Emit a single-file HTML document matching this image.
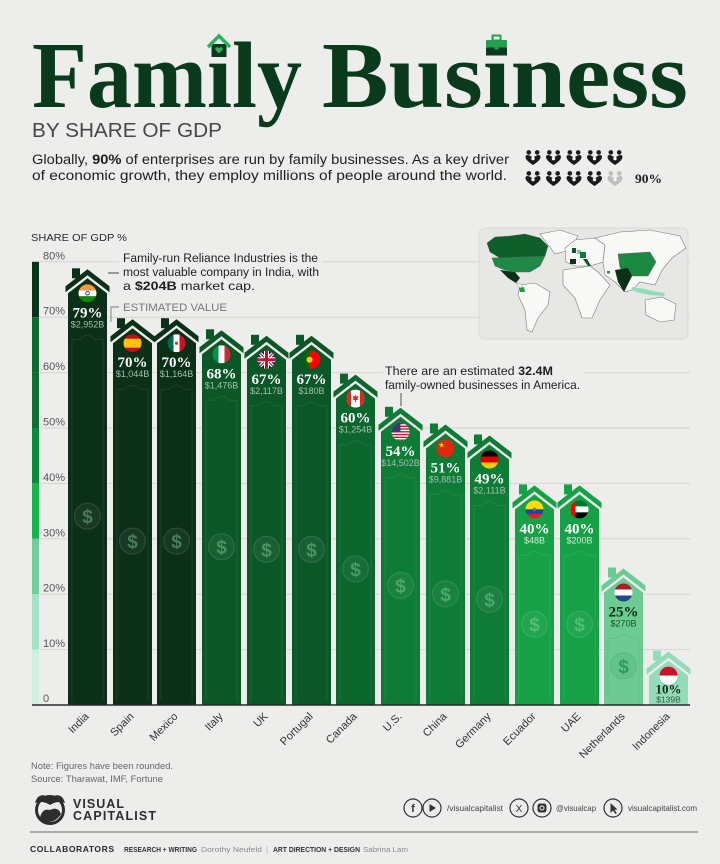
<!DOCTYPE html>
<html><head><meta charset="utf-8">
<style>
html,body{margin:0;padding:0;background:#ededeb;}
svg{display:block;}
</style></head>
<body>
<svg width="720" height="864" viewBox="0 0 720 864" xmlns="http://www.w3.org/2000/svg" font-family="'Liberation Sans', sans-serif">
<defs>
<style>
.pct{font-family:'Liberation Serif',serif;font-weight:bold;font-size:15px;fill:#fff;text-anchor:middle}
.val{font-size:9px;fill:#a9bfb0;text-anchor:middle}
.dc{fill:rgba(255,255,255,0.05);stroke:rgba(255,255,255,0.12);stroke-width:1.2}
.ds{font-size:19px;font-weight:bold;fill:rgba(160,230,180,0.38);text-anchor:middle}
.deco{fill:none;stroke:rgba(255,255,255,0.08);stroke-width:1}
.yl{font-size:11px;fill:#555}
.xl{font-size:11px;fill:#333;text-anchor:end}
.land{fill:#f8f8f6;stroke:#7a7a7a;stroke-width:0.6}
</style>
<clipPath id="fc"><circle cx="0" cy="0" r="9"/></clipPath>
<clipPath id="mapclip"><rect x="479" y="228" width="209" height="111" rx="6"/></clipPath>
<symbol id="ppl" viewBox="0 0 16 15">
<circle cx="3.8" cy="2.4" r="2.3"/>
<circle cx="12.2" cy="2.4" r="2.3"/>
<path d="M0.5,7 C0.5,5 2,4.6 4,5.2 L8,7.5 L12,5.2 C14,4.6 15.5,5 15.5,7 C15.5,10 11,13 8,15 C5,13 0.5,10 0.5,7Z"/>
<circle cx="8" cy="8.6" r="1.7" fill="#fff"/>
</symbol>
</defs>

<rect width="720" height="864" fill="#ededeb"/>

<!-- TITLE -->
<text x="32" y="107" font-family="'Liberation Serif', serif" font-weight="bold" font-size="94" fill="#0a3a1c" textLength="270" lengthAdjust="spacingAndGlyphs">Famıly</text>
<text x="322" y="107" font-family="'Liberation Serif', serif" font-weight="bold" font-size="94" fill="#0a3a1c" textLength="366" lengthAdjust="spacingAndGlyphs">Busıness</text>
<!-- house icon -->
<rect x="211.5" y="44" width="15" height="13" fill="#0a3a1c"/>
<polyline points="208,47 219,36 230,47" fill="none" stroke="#2bb35a" stroke-width="3.5"/>
<path d="M219,53.5 L215.8,50.3 C214.6,49 215.6,47 217.3,47.3 C218.2,47.4 219,48.2 219,48.2 C219,48.2 219.8,47.4 220.7,47.3 C222.4,47 223.4,49 222.2,50.3Z" fill="#2bb35a"/>
<!-- briefcase icon -->
<rect x="492.5" y="35.5" width="8" height="5" fill="none" stroke="#22a04c" stroke-width="2"/>
<rect x="486" y="40" width="21" height="7.5" rx="1" fill="#22a04c"/>
<rect x="486" y="47.5" width="21" height="8" fill="#0a3a1c"/>
<rect x="494.5" y="45.5" width="4" height="4" fill="#22a04c"/>

<text x="32" y="137" font-size="20.5" fill="#474747" textLength="190" lengthAdjust="spacingAndGlyphs">BY SHARE OF GDP</text>

<text x="32" y="164" font-size="13.5" fill="#1e1e1e" textLength="477" lengthAdjust="spacingAndGlyphs">Globally, <tspan font-weight="bold">90%</tspan> of enterprises are run by family businesses. As a key driver</text>
<text x="32" y="180" font-size="13.5" fill="#1e1e1e" textLength="475" lengthAdjust="spacingAndGlyphs">of economic growth, they employ millions of people around the world.</text>

<!-- people icons -->
<g fill="#1b1b1b">
<use href="#ppl" x="525" y="150" width="16" height="15"/>
<use href="#ppl" x="545.5" y="150" width="16" height="15"/>
<use href="#ppl" x="566" y="150" width="16" height="15"/>
<use href="#ppl" x="586.5" y="150" width="16" height="15"/>
<use href="#ppl" x="607" y="150" width="16" height="15"/>
<use href="#ppl" x="525" y="171" width="16" height="15"/>
<use href="#ppl" x="545.5" y="171" width="16" height="15"/>
<use href="#ppl" x="566" y="171" width="16" height="15"/>
<use href="#ppl" x="586.5" y="171" width="16" height="15"/>
</g>
<use href="#ppl" x="607" y="171" width="16" height="15" fill="#bdbdbb"/>
<text x="635" y="183" font-family="'Liberation Serif', serif" font-weight="bold" font-size="12.5" fill="#222" textLength="27" lengthAdjust="spacingAndGlyphs">90%</text>

<!-- CHART HEADER -->
<text x="31" y="241" font-size="10.5" fill="#2a2a2a" textLength="96" lengthAdjust="spacingAndGlyphs">SHARE OF GDP %</text>

<!-- gridlines -->
<g stroke="#d4d4d2" stroke-width="1">
<line x1="40" y1="261.8" x2="690" y2="261.8"/>
<line x1="40" y1="317.2" x2="690" y2="317.2"/>
<line x1="40" y1="372.6" x2="690" y2="372.6"/>
<line x1="40" y1="428" x2="690" y2="428"/>
<line x1="40" y1="483.4" x2="690" y2="483.4"/>
<line x1="40" y1="538.8" x2="690" y2="538.8"/>
<line x1="40" y1="594.2" x2="690" y2="594.2"/>
<line x1="40" y1="649.6" x2="690" y2="649.6"/>
</g>

<!-- y labels -->
<text class="yl" x="43" y="259.3">80%</text>
<text class="yl" x="43" y="314.7">70%</text>
<text class="yl" x="43" y="370.1">60%</text>
<text class="yl" x="43" y="425.5">50%</text>
<text class="yl" x="43" y="480.9">40%</text>
<text class="yl" x="43" y="536.3">30%</text>
<text class="yl" x="43" y="591.7">20%</text>
<text class="yl" x="43" y="647.1">10%</text>
<text class="yl" x="43" y="702">0</text>

<!-- left color scale -->
<rect x="32" y="261.8" width="7" height="55.4" fill="#07331a"/>
<rect x="32" y="317.2" width="7" height="55.4" fill="#0e6a30"/>
<rect x="32" y="372.6" width="7" height="55.4" fill="#0f6e32"/>
<rect x="32" y="428" width="7" height="55.4" fill="#0b8a3b"/>
<rect x="32" y="483.4" width="7" height="55.4" fill="#1ab24d"/>
<rect x="32" y="538.8" width="7" height="55.4" fill="#72cd98"/>
<rect x="32" y="594.2" width="7" height="55.4" fill="#a6e2c6"/>
<rect x="32" y="649.6" width="7" height="55.4" fill="#cdf0e0"/>

<!-- MAP -->
<rect x="479" y="228" width="209" height="111" rx="6" fill="#e7e7e5" stroke="#dadad8"/>
<g clip-path="url(#mapclip)">
<polygon class="land" points="540,234 560,230 578,236 570,250 555,254"/>
<polygon class="land" points="520,285 535,283 550,292 548,305 538,318 532,332 527,330 525,310 518,295"/>
<polygon class="land" points="563,270 590,266 598,272 610,285 600,300 592,318 582,318 575,298 563,285"/>
<polygon class="land" points="565,248 575,240 595,238 605,245 603,262 590,266 575,266 566,262"/>
<polygon class="land" points="595,238 620,232 650,230 680,236 686,248 672,258 662,270 655,285 640,282 632,290 625,292 615,282 605,275 603,262 605,245"/>
<polygon class="land" points="645,300 662,297 676,304 674,320 660,322 646,315"/>
<polygon points="487,243 495,237 510,236 525,234 540,238 548,246 545,256 530,258 500,258 490,252" fill="#0f5f2b" stroke="#555" stroke-width="0.4"/>
<polygon points="492,258 545,256 540,266 530,272 515,272 505,270 495,266" fill="#1f8a45" stroke="#555" stroke-width="0.4"/>
<polygon points="500,270 515,272 520,278 516,283 508,278" fill="#0a3018"/>
<polygon points="516,283 521,284 523,289 519,287" fill="#f8f8f6" stroke="#777" stroke-width="0.4"/>
<polygon points="519,288 524,287 525,292 520,292" fill="#17a147"/>
<polygon points="618,254 650,252 656,262 648,276 630,276 620,268" fill="#1a8a42" stroke="#555" stroke-width="0.4"/>
<polygon points="615,270 628,268 632,276 624,292 618,282" fill="#0a3018"/>
<polygon points="632,287 645,289 652,291 665,293 664,296 650,295 640,293 631,290" fill="#92dcb9"/>
<rect x="570" y="259" width="6" height="5" fill="#0a3018"/>
<rect x="572" y="248" width="4" height="5" fill="#0c5727"/>
<rect x="577" y="250" width="4" height="4" fill="#6ccb93"/>
<rect x="580" y="252" width="6" height="6" fill="#0e7b36"/>
<polygon points="583,259 587,259 591,266 588,266" fill="#0c5727"/>
<rect x="607" y="271" width="3" height="2.5" fill="#17a147"/>
</g>

<!-- annotation backgrounds -->
<rect x="119" y="250" width="203" height="44" fill="#ededeb"/>
<rect x="383" y="362" width="200" height="30" fill="#ededeb"/>

<!-- BARS -->
<!-- India -->
<g transform="translate(68,267.3)">
<rect x="4" y="1" width="8" height="10" fill="#0a3018"/>
<polygon points="-2.5,19 19.5,2 41.5,19 41.5,25 19.5,8 -2.5,25" fill="#0a3018"/>
<polygon points="0,26 19.5,11 39,26 39,437.7 0,437.7" fill="#0a3018"/>
<path class="deco" d="M4,433.7 V72 H12 Q19.5,64 27,72 H35 V433.7"/>
<circle class="dc" cx="19.5" cy="248.9" r="13"/>
<text class="ds" x="19.5" y="255.9">$</text>
<g transform="translate(19.5,26)" clip-path="url(#fc)">
<rect x="-9" y="-9" width="18" height="6" fill="#ff9933"/><rect x="-9" y="-3" width="18" height="6" fill="#fff"/><rect x="-9" y="3" width="18" height="6" fill="#138808"/><circle r="1.8" fill="none" stroke="#000080" stroke-width="0.7"/>
</g>
<text class="pct" x="19.5" y="50">79%</text>
<text class="val" x="19.5" y="60">$2,952B</text>
</g>
<!-- Spain -->
<g transform="translate(113,317.2)">
<rect x="4" y="1" width="8" height="10" fill="#0a3018"/>
<polygon points="-2.5,19 19.5,2 41.5,19 41.5,25 19.5,8 -2.5,25" fill="#0a3018"/>
<polygon points="0,26 19.5,11 39,26 39,387.8 0,387.8" fill="#0a3018"/>
<path class="deco" d="M4,383.8 V72 H12 Q19.5,64 27,72 H35 V383.8"/>
<circle class="dc" cx="19.5" cy="223.9" r="13"/>
<text class="ds" x="19.5" y="230.9">$</text>
<g transform="translate(19.5,26)" clip-path="url(#fc)">
<rect x="-9" y="-9" width="18" height="18" fill="#c60b1e"/><rect x="-9" y="-4.5" width="18" height="9" fill="#ffc400"/>
</g>
<text class="pct" x="19.5" y="50">70%</text>
<text class="val" x="19.5" y="60">$1,044B</text>
</g>
<!-- Mexico -->
<g transform="translate(157,317.2)">
<rect x="4" y="1" width="8" height="10" fill="#0a3018"/>
<polygon points="-2.5,19 19.5,2 41.5,19 41.5,25 19.5,8 -2.5,25" fill="#0a3018"/>
<polygon points="0,26 19.5,11 39,26 39,387.8 0,387.8" fill="#0a3018"/>
<path class="deco" d="M4,383.8 V72 H12 Q19.5,64 27,72 H35 V383.8"/>
<circle class="dc" cx="19.5" cy="223.9" r="13"/>
<text class="ds" x="19.5" y="230.9">$</text>
<g transform="translate(19.5,26)" clip-path="url(#fc)">
<rect x="-9" y="-9" width="6" height="18" fill="#006847"/><rect x="-3" y="-9" width="6" height="18" fill="#fff"/><rect x="3" y="-9" width="6" height="18" fill="#ce1126"/><circle r="1.6" fill="#8b5a2b"/>
</g>
<text class="pct" x="19.5" y="50">70%</text>
<text class="val" x="19.5" y="60">$1,164B</text>
</g>
<!-- Italy -->
<g transform="translate(202,328.3)">
<rect x="4" y="1" width="8" height="10" fill="#0c5727"/>
<polygon points="-2.5,19 19.5,2 41.5,19 41.5,25 19.5,8 -2.5,25" fill="#0c5727"/>
<polygon points="0,26 19.5,11 39,26 39,376.7 0,376.7" fill="#0c5727"/>
<path class="deco" d="M4,372.7 V72 H12 Q19.5,64 27,72 H35 V372.7"/>
<circle class="dc" cx="19.5" cy="218.4" r="13"/>
<text class="ds" x="19.5" y="225.4">$</text>
<g transform="translate(19.5,26)" clip-path="url(#fc)">
<rect x="-9" y="-9" width="6" height="18" fill="#009246"/><rect x="-3" y="-9" width="6" height="18" fill="#fff"/><rect x="3" y="-9" width="6" height="18" fill="#ce2b37"/>
</g>
<text class="pct" x="19.5" y="50">68%</text>
<text class="val" x="19.5" y="60">$1,476B</text>
</g>
<!-- UK -->
<g transform="translate(247,333.8)">
<rect x="4" y="1" width="8" height="10" fill="#0c5727"/>
<polygon points="-2.5,19 19.5,2 41.5,19 41.5,25 19.5,8 -2.5,25" fill="#0c5727"/>
<polygon points="0,26 19.5,11 39,26 39,371.2 0,371.2" fill="#0c5727"/>
<path class="deco" d="M4,367.2 V72 H12 Q19.5,64 27,72 H35 V367.2"/>
<circle class="dc" cx="19.5" cy="215.6" r="13"/>
<text class="ds" x="19.5" y="222.6">$</text>
<g transform="translate(19.5,26)" clip-path="url(#fc)">
<rect x="-9" y="-9" width="18" height="18" fill="#012169"/>
<path d="M-9,-9 L9,9 M9,-9 L-9,9" stroke="#fff" stroke-width="3.5"/>
<path d="M-9,-9 L9,9 M9,-9 L-9,9" stroke="#c8102e" stroke-width="1.2"/>
<path d="M0,-9 V9 M-9,0 H9" stroke="#fff" stroke-width="5"/>
<path d="M0,-9 V9 M-9,0 H9" stroke="#c8102e" stroke-width="3"/>
</g>
<text class="pct" x="19.5" y="50">67%</text>
<text class="val" x="19.5" y="60">$2,117B</text>
</g>
<!-- Portugal -->
<g transform="translate(292,333.8)">
<rect x="4" y="1" width="8" height="10" fill="#0c5727"/>
<polygon points="-2.5,19 19.5,2 41.5,19 41.5,25 19.5,8 -2.5,25" fill="#0c5727"/>
<polygon points="0,26 19.5,11 39,26 39,371.2 0,371.2" fill="#0c5727"/>
<path class="deco" d="M4,367.2 V72 H12 Q19.5,64 27,72 H35 V367.2"/>
<circle class="dc" cx="19.5" cy="215.6" r="13"/>
<text class="ds" x="19.5" y="222.6">$</text>
<g transform="translate(19.5,26)" clip-path="url(#fc)">
<rect x="-9" y="-9" width="7" height="18" fill="#006600"/><rect x="-2" y="-9" width="11" height="18" fill="#ff0000"/><circle cx="-2" cy="0" r="3" fill="#ffcc00"/>
</g>
<text class="pct" x="19.5" y="50">67%</text>
<text class="val" x="19.5" y="60">$180B</text>
</g>
<!-- Canada -->
<g transform="translate(336,372.6)">
<rect x="4" y="1" width="8" height="10" fill="#0b662d"/>
<polygon points="-2.5,19 19.5,2 41.5,19 41.5,25 19.5,8 -2.5,25" fill="#0b662d"/>
<polygon points="0,26 19.5,11 39,26 39,332.4 0,332.4" fill="#0b662d"/>
<path class="deco" d="M4,328.4 V72 H12 Q19.5,64 27,72 H35 V328.4"/>
<circle class="dc" cx="19.5" cy="196.2" r="13"/>
<text class="ds" x="19.5" y="203.2">$</text>
<g transform="translate(19.5,26)" clip-path="url(#fc)">
<rect x="-9" y="-9" width="18" height="18" fill="#fff"/><rect x="-9" y="-9" width="4.5" height="18" fill="#d52b1e"/><rect x="4.5" y="-9" width="4.5" height="18" fill="#d52b1e"/>
<polygon points="0,-4 1,-2 3,-3 2,0 3,1 0.5,1.5 0.5,3.5 -0.5,3.5 -0.5,1.5 -3,1 -2,0 -3,-3 -1,-2" fill="#d52b1e"/>
</g>
<text class="pct" x="19.5" y="50">60%</text>
<text class="val" x="19.5" y="60">$1,254B</text>
</g>
<!-- US -->
<g transform="translate(381,405.8)">
<rect x="4" y="1" width="8" height="10" fill="#0e7b36"/>
<polygon points="-2.5,19 19.5,2 41.5,19 41.5,25 19.5,8 -2.5,25" fill="#0e7b36"/>
<polygon points="0,26 19.5,11 39,26 39,299.2 0,299.2" fill="#0e7b36"/>
<path class="deco" d="M4,295.2 V72 H12 Q19.5,64 27,72 H35 V295.2"/>
<circle class="dc" cx="19.5" cy="179.6" r="13"/>
<text class="ds" x="19.5" y="186.6">$</text>
<g transform="translate(19.5,26)" clip-path="url(#fc)">
<rect x="-9" y="-9" width="18" height="18" fill="#fff"/>
<g fill="#b22234"><rect x="-9" y="-9" width="18" height="1.4"/><rect x="-9" y="-6.23" width="18" height="1.4"/><rect x="-9" y="-3.46" width="18" height="1.4"/><rect x="-9" y="-0.69" width="18" height="1.4"/><rect x="-9" y="2.08" width="18" height="1.4"/><rect x="-9" y="4.85" width="18" height="1.4"/><rect x="-9" y="7.62" width="18" height="1.4"/></g>
<rect x="-9" y="-9" width="9" height="9.7" fill="#3c3b6e"/>
</g>
<text class="pct" x="19.5" y="50">54%</text>
<text class="val" x="19.5" y="60">$14,502B</text>
</g>
<!-- China -->
<g transform="translate(426,422.5)">
<rect x="4" y="1" width="8" height="10" fill="#0e7b36"/>
<polygon points="-2.5,19 19.5,2 41.5,19 41.5,25 19.5,8 -2.5,25" fill="#0e7b36"/>
<polygon points="0,26 19.5,11 39,26 39,282.5 0,282.5" fill="#0e7b36"/>
<path class="deco" d="M4,278.5 V72 H12 Q19.5,64 27,72 H35 V278.5"/>
<circle class="dc" cx="19.5" cy="171.3" r="13"/>
<text class="ds" x="19.5" y="178.3">$</text>
<g transform="translate(19.5,26)" clip-path="url(#fc)">
<rect x="-9" y="-9" width="18" height="18" fill="#de2910"/>
<polygon points="-4,-6.5 -3.3,-4.5 -1.2,-4.5 -2.9,-3.2 -2.3,-1.2 -4,-2.4 -5.7,-1.2 -5.1,-3.2 -6.8,-4.5 -4.7,-4.5" fill="#ffde00"/>
</g>
<text class="pct" x="19.5" y="50">51%</text>
<text class="val" x="19.5" y="60">$9,881B</text>
</g>
<!-- Germany -->
<g transform="translate(470,433.5)">
<rect x="4" y="1" width="8" height="10" fill="#0e7b36"/>
<polygon points="-2.5,19 19.5,2 41.5,19 41.5,25 19.5,8 -2.5,25" fill="#0e7b36"/>
<polygon points="0,26 19.5,11 39,26 39,271.5 0,271.5" fill="#0e7b36"/>
<path class="deco" d="M4,267.5 V72 H12 Q19.5,64 27,72 H35 V267.5"/>
<circle class="dc" cx="19.5" cy="165.8" r="13"/>
<text class="ds" x="19.5" y="172.8">$</text>
<g transform="translate(19.5,26)" clip-path="url(#fc)">
<rect x="-9" y="-9" width="18" height="6" fill="#000"/><rect x="-9" y="-3" width="18" height="6" fill="#dd0000"/><rect x="-9" y="3" width="18" height="6" fill="#ffce00"/>
</g>
<text class="pct" x="19.5" y="50">49%</text>
<text class="val" x="19.5" y="60">$2,111B</text>
</g>
<!-- Ecuador -->
<g transform="translate(515,483.4)">
<rect x="4" y="1" width="8" height="10" fill="#17a147"/>
<polygon points="-2.5,19 19.5,2 41.5,19 41.5,25 19.5,8 -2.5,25" fill="#17a147"/>
<polygon points="0,26 19.5,11 39,26 39,221.6 0,221.6" fill="#17a147"/>
<path class="deco" d="M4,217.6 V72 H12 Q19.5,64 27,72 H35 V217.6"/>
<circle class="dc" cx="19.5" cy="140.8" r="13"/>
<text class="ds" x="19.5" y="147.8">$</text>
<g transform="translate(19.5,26)" clip-path="url(#fc)">
<rect x="-9" y="-9" width="18" height="9" fill="#ffdd00"/><rect x="-9" y="0" width="18" height="4.5" fill="#034ea2"/><rect x="-9" y="4.5" width="18" height="4.5" fill="#ed1c24"/><circle r="1.8" fill="#8a6d2a"/>
</g>
<text class="pct" x="19.5" y="50">40%</text>
<text class="val" x="19.5" y="60" style="fill:#cdebd6">$48B</text>
</g>
<!-- UAE -->
<g transform="translate(560,483.4)">
<rect x="4" y="1" width="8" height="10" fill="#17a147"/>
<polygon points="-2.5,19 19.5,2 41.5,19 41.5,25 19.5,8 -2.5,25" fill="#17a147"/>
<polygon points="0,26 19.5,11 39,26 39,221.6 0,221.6" fill="#17a147"/>
<path class="deco" d="M4,217.6 V72 H12 Q19.5,64 27,72 H35 V217.6"/>
<circle class="dc" cx="19.5" cy="140.8" r="13"/>
<text class="ds" x="19.5" y="147.8">$</text>
<g transform="translate(19.5,26)" clip-path="url(#fc)">
<rect x="-9" y="-9" width="18" height="6" fill="#00732f"/><rect x="-9" y="-3" width="18" height="6" fill="#fff"/><rect x="-9" y="3" width="18" height="6" fill="#000"/><rect x="-9" y="-9" width="5" height="18" fill="#ff0000"/>
</g>
<text class="pct" x="19.5" y="50">40%</text>
<text class="val" x="19.5" y="60" style="fill:#cdebd6">$200B</text>
</g>
<!-- Netherlands -->
<g transform="translate(604,566.5)">
<rect x="4" y="1" width="8" height="10" fill="#6ccb93"/>
<polygon points="-2.5,19 19.5,2 41.5,19 41.5,25 19.5,8 -2.5,25" fill="#6ccb93"/>
<polygon points="0,26 19.5,11 39,26 39,138.5 0,138.5" fill="#6ccb93"/>
<path d="M4,134.5 V72 H12 Q19.5,64 27,72 H35 V134.5" fill="none" stroke="rgba(0,80,30,0.08)"/>
<circle cx="19.5" cy="99.3" r="13" fill="rgba(0,100,40,0.07)" stroke="rgba(0,100,40,0.12)" stroke-width="1.2"/>
<text x="19.5" y="106.3" font-size="19" font-weight="bold" fill="#2f9a5c" text-anchor="middle">$</text>
<g transform="translate(19.5,26)" clip-path="url(#fc)">
<rect x="-9" y="-9" width="18" height="6" fill="#ae1c28"/><rect x="-9" y="-3" width="18" height="6" fill="#fff"/><rect x="-9" y="3" width="18" height="6" fill="#21468b"/>
</g>
<text class="pct" x="19.5" y="50" style="fill:#0b2a16">25%</text>
<text class="val" x="19.5" y="60" style="fill:#1f4d30">$270B</text>
</g>
<!-- Indonesia -->
<g transform="translate(649,649.6)">
<rect x="4" y="1" width="8" height="10" fill="#94dcb9"/>
<polygon points="-2.5,19 19.5,2 41.5,19 41.5,25 19.5,8 -2.5,25" fill="#94dcb9"/>
<polygon points="0,26 19.5,11 39,26 39,55.4 0,55.4" fill="#94dcb9"/>
<g transform="translate(19.5,26)" clip-path="url(#fc)">
<rect x="-9" y="-9" width="18" height="9" fill="#ce1126"/><rect x="-9" y="0" width="18" height="9" fill="#fff"/>
</g>
<text class="pct" x="19.5" y="44" style="fill:#0b2a16;font-size:13px">10%</text>
<text class="val" x="19.5" y="52.8" style="fill:#2b5a3a;font-size:8.5px">$139B</text>
</g>

<!-- baseline -->
<line x1="32" y1="705" x2="690" y2="705" stroke="#2a2a2a" stroke-width="1.5"/>

<!-- annotations -->
<line x1="108" y1="273" x2="119" y2="273" stroke="#333" stroke-width="0.9"/>
<text x="123" y="262" font-size="12.3" fill="#1e1e1e" textLength="195" lengthAdjust="spacingAndGlyphs">Family-run Reliance Industries is the</text>
<text x="123" y="276" font-size="12.3" fill="#1e1e1e" textLength="196" lengthAdjust="spacingAndGlyphs">most valuable company in India, with</text>
<text x="123" y="290" font-size="12.3" fill="#1e1e1e" textLength="132" lengthAdjust="spacingAndGlyphs">a <tspan font-weight="bold">$204B</tspan> market cap.</text>
<polyline points="119,307 111,307 111,322" fill="none" stroke="#777" stroke-width="0.9"/>
<text x="123" y="311" font-size="11" fill="#777" textLength="104" lengthAdjust="spacingAndGlyphs">ESTIMATED VALUE</text>

<text x="385" y="375" font-size="12.3" fill="#1e1e1e" textLength="168" lengthAdjust="spacingAndGlyphs">There are an estimated <tspan font-weight="bold">32.4M</tspan></text>
<text x="385" y="389" font-size="12.3" fill="#1e1e1e" textLength="195" lengthAdjust="spacingAndGlyphs">family-owned businesses in America.</text>
<line x1="401" y1="393" x2="401" y2="406" stroke="#444" stroke-width="0.9"/>

<!-- x labels -->
<text class="xl" transform="translate(89.5,717) rotate(-45)">India</text>
<text class="xl" transform="translate(134.5,717) rotate(-45)">Spain</text>
<text class="xl" transform="translate(178.5,717) rotate(-45)">Mexico</text>
<text class="xl" transform="translate(223.5,717) rotate(-45)">Italy</text>
<text class="xl" transform="translate(268.5,717) rotate(-45)">UK</text>
<text class="xl" transform="translate(313.5,717) rotate(-45)">Portugal</text>
<text class="xl" transform="translate(357.5,717) rotate(-45)">Canada</text>
<text class="xl" transform="translate(402.5,717) rotate(-45)">U.S.</text>
<text class="xl" transform="translate(447.5,717) rotate(-45)">China</text>
<text class="xl" transform="translate(491.5,717) rotate(-45)">Germany</text>
<text class="xl" transform="translate(536.5,717) rotate(-45)">Ecuador</text>
<text class="xl" transform="translate(581.5,717) rotate(-45)">UAE</text>
<text class="xl" transform="translate(625.5,717) rotate(-45)">Netherlands</text>
<text class="xl" transform="translate(670.5,717) rotate(-45)">Indonesia</text>

<!-- FOOTER -->
<text x="31" y="769" font-size="9.5" fill="#666" textLength="142" lengthAdjust="spacingAndGlyphs">Note: Figures have been rounded.</text>
<text x="31" y="782" font-size="9.5" fill="#666" textLength="132" lengthAdjust="spacingAndGlyphs">Source: Tharawat, IMF, Fortune</text>

<!-- logo -->
<g>
<circle cx="50" cy="810" r="13.5" fill="none" stroke="#2d2d2d" stroke-width="3"/>
<path d="M35,803 Q38,793 46,796 Q50,799 54,796 Q62,793 65,803 Q58,800 50,805 Q42,800 35,803Z" fill="#2d2d2d"/>
<path d="M40,818 Q42,808 50,810 Q58,806 61,814 Q56,822 48,822 Q43,822 40,818Z" fill="#2d2d2d"/>
</g>
<text x="73" y="808" font-size="12.5" font-weight="bold" fill="#2d2d2d" textLength="51" lengthAdjust="spacing">VISUAL</text>
<text x="73" y="820" font-size="12.5" font-weight="bold" fill="#2d2d2d" textLength="83" lengthAdjust="spacing">CAPITALIST</text>

<!-- social -->
<g fill="none" stroke="#333" stroke-width="1.2">
<circle cx="413" cy="808" r="9"/>
<circle cx="432" cy="808" r="9"/>
<circle cx="519" cy="808" r="9"/>
<circle cx="542" cy="808" r="9"/>
<circle cx="613" cy="808" r="9"/>
</g>
<text x="413" y="812" font-size="11" font-weight="bold" fill="#333" text-anchor="middle">f</text>
<polygon points="429.5,804 429.5,812 436,808" fill="#333"/>
<text x="519" y="812" font-size="10" fill="#333" text-anchor="middle">X</text>
<rect x="537.5" y="803.5" width="9" height="9" rx="2.5" fill="#333"/>
<circle cx="542" cy="808" r="2" fill="none" stroke="#eee" stroke-width="1"/>
<polygon points="610.5,803 610.5,813 613,810.5 615.5,814 616.8,813 614.5,809.8 617.5,809.5" fill="#333"/>
<text x="447" y="811" font-size="8.5" fill="#444" textLength="56" lengthAdjust="spacingAndGlyphs">/visualcapitalist</text>
<text x="556" y="811" font-size="8.5" fill="#444" textLength="40" lengthAdjust="spacingAndGlyphs">@visualcap</text>
<text x="628" y="811" font-size="8.5" fill="#444" textLength="69" lengthAdjust="spacingAndGlyphs">visualcapitalist.com</text>

<line x1="30" y1="832" x2="698" y2="832" stroke="#6a6a6a" stroke-width="1"/>

<text x="30" y="852" font-size="8.5" font-weight="bold" fill="#2a2a2a" textLength="84" lengthAdjust="spacing">COLLABORATORS</text>
<text x="124" y="852" font-size="7.5" font-weight="bold" fill="#333" textLength="73" lengthAdjust="spacingAndGlyphs">RESEARCH + WRITING</text>
<text x="201" y="852" font-size="7.5" fill="#888" textLength="61" lengthAdjust="spacingAndGlyphs">Dorothy Neufeld</text>
<text x="266" y="852" font-size="7.5" fill="#aaa">|</text>
<text x="273" y="852" font-size="7.5" font-weight="bold" fill="#333" textLength="87" lengthAdjust="spacingAndGlyphs">ART DIRECTION + DESIGN</text>
<text x="363" y="852" font-size="7.5" fill="#888" textLength="45" lengthAdjust="spacingAndGlyphs">Sabrina Lam</text>
</svg>
</body></html>
